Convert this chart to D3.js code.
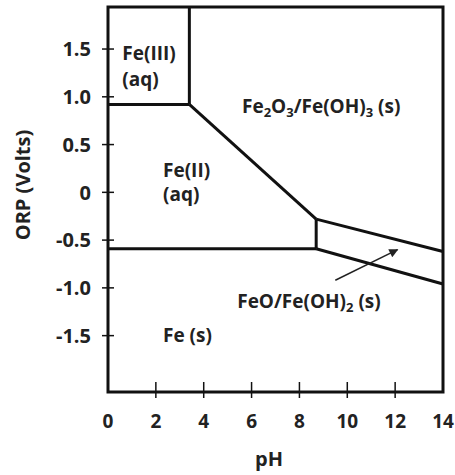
<!DOCTYPE html>
<html>
<head>
<meta charset="utf-8">
<script src="https://cdn.jsdelivr.net/npm/d3@7"></script>
<style>
  body { margin: 0; background: #fff; }
  text { font-family: "Open Sans", sans-serif; font-weight: 700; fill: #222; }
</style>
</head>
<body>
<svg id="chart"></svg>
<script>
const width = 455;
const height = 475;

const xTicks = [0, 2, 4, 6, 8, 10, 12, 14];
const yTicks = [1.5, 1.0, 0.5, 0, -0.5, -1.0, -1.5];
const yTickLabels = ["1.5", "1.0", "0.5", "0", "-0.5", "-1.0", "-1.5"];

// phase boundaries, [pH, ORP]
const fe3Fe2 = [[0, 0.92], [3.4, 0.92]];
const fe3Solid = [[3.4, 1.95], [3.4, 0.92]];
const fe2Fe2o3 = [[3.4, 0.92], [8.7, -0.28]];
const fe2Feo = [[8.7, -0.28], [8.7, -0.59]];
const fe2Fe = [[0, -0.59], [8.7, -0.59]];
const fe2o3Feo = [[8.7, -0.28], [14, -0.62]];
const feoFe = [[8.7, -0.59], [14, -0.96]];
const arrowLine = [[9.5, -0.92], [12.1, -0.6]];

const labels = [
  { pH: 0.6, orp: 1.39, t: "Fe(III)" },
  { pH: 0.6, orp: 1.11, t: "(aq)" },
  { pH: 2.3, orp: 0.16, t: "Fe(II)" },
  { pH: 2.3, orp: -0.09, t: "(aq)" },
  { pH: 2.3, orp: -1.57, t: "Fe (s)" }
];

const margin = { top: 7, right: 12, bottom: 83, left: 108 };

const x = d3.scaleLinear().domain([0, 14]).range([margin.left, width - margin.right]);
const y = d3.scaleLinear().domain([-2.09, 1.94]).range([height - margin.bottom, margin.top]);

const svg = d3.select("#chart").attr("width", width).attr("height", height);

svg.append("defs").append("marker")
    .attr("id", "arrow")
    .attr("viewBox", "0 0 10 10")
    .attr("refX", 9).attr("refY", 5)
    .attr("markerWidth", 10).attr("markerHeight", 9)
    .attr("markerUnits", "userSpaceOnUse")
    .attr("orient", "auto")
    .append("path").attr("d", "M0,0L10,5L0,10z").attr("fill", "#222");

const line = d3.line().x(d => x(d[0])).y(d => y(d[1]));

[fe3Fe2, fe3Solid, fe2Fe2o3, fe2Feo, fe2Fe, fe2o3Feo, feoFe].forEach(seg => {
    svg.append("path")
        .attr("d", line(seg))
        .attr("fill", "none")
        .attr("stroke", "#111")
        .attr("stroke-width", 3);
});

svg.append("path")
    .attr("d", line(arrowLine))
    .attr("fill", "none")
    .attr("stroke", "#222")
    .attr("stroke-width", 1.5)
    .attr("marker-end", "url(#arrow)");

// frame
svg.append("rect")
    .attr("x", x(0)).attr("y", y(1.94))
    .attr("width", x(14) - x(0)).attr("height", y(-2.09) - y(1.94))
    .attr("fill", "none").attr("stroke", "#111").attr("stroke-width", 3);

// ticks
const yAxis = svg.append("g");
yAxis.selectAll("line").data(yTicks).join("line")
    .attr("x1", x(0) - 6).attr("x2", x(0) + 6)
    .attr("y1", d => y(d)).attr("y2", d => y(d))
    .attr("stroke", "#111").attr("stroke-width", 1.5);
yAxis.selectAll("text").data(yTicks).join("text")
    .attr("x", x(0) - 17).attr("y", d => y(d)).attr("dy", "0.36em")
    .attr("text-anchor", "end").attr("font-size", 20)
    .text((d, i) => yTickLabels[i]);

const xAxis = svg.append("g");
xAxis.selectAll("line").data(xTicks.slice(1, -1)).join("line")
    .attr("x1", d => x(d)).attr("x2", d => x(d))
    .attr("y1", y(-2.09) - 10).attr("y2", y(-2.09) + 6)
    .attr("stroke", "#111").attr("stroke-width", 1.5);
xAxis.selectAll("text").data(xTicks).join("text")
    .attr("x", d => x(d)).attr("y", 428)
    .attr("text-anchor", "middle").attr("font-size", 19)
    .text(d => d);

svg.append("text")
    .attr("x", 269).attr("y", 466)
    .attr("text-anchor", "middle").attr("font-size", 20)
    .text("pH");

svg.append("text")
    .attr("transform", "translate(30, 185) rotate(-90)")
    .attr("text-anchor", "middle").attr("font-size", 20)
    .text("ORP (Volts)");

// region labels
svg.selectAll(".lab").data(labels).join("text")
    .attr("class", "lab")
    .attr("x", d => x(d.pH)).attr("y", d => y(d.orp))
    .attr("font-size", 19)
    .text(d => d.t);

const hem = svg.append("text")
    .attr("x", x(5.6)).attr("y", y(0.83))
    .attr("font-size", 19);
hem.append("tspan").text("Fe");
hem.append("tspan").attr("font-size", 13).attr("dy", 4).text("2");
hem.append("tspan").attr("dy", -4).text("O");
hem.append("tspan").attr("font-size", 13).attr("dy", 4).text("3");
hem.append("tspan").attr("dy", -4).text("/Fe(OH)");
hem.append("tspan").attr("font-size", 13).attr("dy", 4).text("3");
hem.append("tspan").attr("dy", -4).text(" (s)");

const feo = svg.append("text")
    .attr("x", x(5.4)).attr("y", y(-1.21))
    .attr("font-size", 19);
feo.append("tspan").text("FeO/Fe(OH)");
feo.append("tspan").attr("font-size", 13).attr("dy", 4).text("2");
feo.append("tspan").attr("dy", -4).text(" (s)");
</script>
</body>
</html>
